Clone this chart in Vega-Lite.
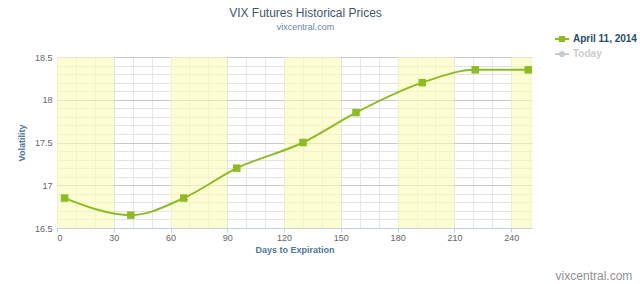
{
  "$schema": "https://vega.github.io/schema/vega-lite/v6.json",
  "width": 475,
  "height": 171,
  "autosize": {"type": "none"},
  "padding": {"left": 57, "top": 57, "right": 108, "bottom": 56},
  "background": "white",
  "config": {"view": {"stroke": null}, "font": "Liberation Sans"},
  "title": {
    "text": "VIX Futures Historical Prices",
    "subtitle": "vixcentral.com",
    "anchor": "middle",
    "frame": "group",
    "dx": 11,
    "offset": -2,
    "font": "Liberation Sans",
    "fontSize": 12,
    "fontWeight": "normal",
    "color": "#3E576F",
    "subtitleFont": "Liberation Sans",
    "subtitleFontSize": 9,
    "subtitleColor": "#6D869F",
    "subtitlePadding": 3
  },
  "resolve": {"axis": {"x": "independent", "y": "independent"}},
  "layer": [
    {
      "data": {"values": [
        {"start": 0, "end": 30},
        {"start": 60, "end": 90},
        {"start": 120, "end": 150},
        {"start": 180, "end": 210},
        {"start": 240, "end": 251}
      ]},
      "mark": {"type": "rect", "fill": "#fafcb6", "opacity": 0.6},
      "encoding": {
        "x": {
          "field": "start", "type": "quantitative",
          "scale": {"domain": [0, 251], "nice": false, "zero": false},
          "axis": {"orient": "bottom", "values": [10,20,40,50,70,80,100,110,130,140,160,170,190,200,220,230,250], "grid": true, "gridColor": "#e6e6e6", "gridWidth": 1, "labels": false, "ticks": false, "domain": false, "title": null}
        },
        "x2": {"field": "end"},
        "y": {
          "datum": 16.5, "type": "quantitative",
          "scale": {"domain": [16.5, 18.5], "nice": false, "zero": false},
          "axis": {"orient": "left", "values": [16.6,16.7,16.8,16.9,17.1,17.2,17.3,17.4,17.6,17.7,17.8,17.9,18.1,18.2,18.3,18.4], "grid": true, "gridColor": "#e3e3e3", "gridWidth": 1, "labels": false, "ticks": false, "domain": false, "title": null}
        },
        "y2": {"datum": 18.5}
      }
    },
    {
      "data": {"values": [
        {"days": 4, "vol": 16.85, "series": "April 11, 2014"},
        {"days": 39, "vol": 16.65, "series": "April 11, 2014"},
        {"days": 67, "vol": 16.85, "series": "April 11, 2014"},
        {"days": 95, "vol": 17.2, "series": "April 11, 2014"},
        {"days": 130, "vol": 17.5, "series": "April 11, 2014"},
        {"days": 158, "vol": 17.85, "series": "April 11, 2014"},
        {"days": 193, "vol": 18.2, "series": "April 11, 2014"},
        {"days": 221, "vol": 18.35, "series": "April 11, 2014"},
        {"days": 249, "vol": 18.35, "series": "April 11, 2014"}
      ]},
      "mark": {"type": "line", "interpolate": "monotone", "strokeWidth": 2,
               "point": {"shape": "square", "size": 56, "filled": true}},
      "encoding": {
        "x": {
          "field": "days", "type": "quantitative",
          "axis": {"orient": "bottom", "values": [0,30,60,90,120,150,180,210,240], "grid": true, "gridColor": "#e3e3e3",
                   "domain": true, "domainColor": "#C0D0E0", "ticks": true, "tickColor": "#C0D0E0", "tickSize": 4,
                   "labelFont": "Liberation Sans", "labelFontSize": 9, "labelColor": "#666666", "labelPadding": 1,
                   "title": "Days to Expiration", "titleFont": "Liberation Sans", "titleFontSize": 9, "titleFontWeight": "bold",
                   "titleColor": "#4d759e", "titlePadding": 3}
        },
        "y": {
          "field": "vol", "type": "quantitative",
          "axis": {"orient": "left", "values": [16.5,17,17.5,18,18.5], "grid": true, "gridColor": "#c8c8c8",
                   "domain": false, "ticks": false, "labelFont": "Liberation Sans", "labelFontSize": 9, "labelColor": "#666666",
                   "labelPadding": 5, "format": "~g",
                   "title": "Volatility", "titleFont": "Liberation Sans", "titleFontSize": 9, "titleFontWeight": "bold",
                   "titleColor": "#4d759e", "titlePadding": 8}
        },
        "color": {
          "field": "series", "type": "nominal",
          "scale": {"domain": ["April 11, 2014", "Today"], "range": ["#8bbc21", "#cccccc"]},
          "legend": {
            "orient": "none", "legendX": 497, "legendY": -26, "title": null, "padding": 0,
            "symbolSize": 196, "symbolStrokeWidth": 2, "rowPadding": -2, "labelOffset": 3,
            "labelFont": "Liberation Sans", "labelFontSize": 10, "labelFontWeight": "bold",
            "encode": {
              "symbols": {"update": {
                "shape": {"signal": "datum.label === 'Today' ? 'M-1,0H1M0.3,0A0.3,0.3 0 1,1 -0.3,0A0.3,0.3 0 1,1 0.3,0Z' : 'M-1,0H1M-0.3,-0.3H0.3V0.3H-0.3Z'"},
                "fill": {"signal": "datum.label === 'Today' ? '#cccccc' : '#8bbc21'"},
                "stroke": {"signal": "datum.label === 'Today' ? '#cccccc' : '#8bbc21'"},
                "strokeWidth": {"value": 2},
                "opacity": {"value": 1}
              }},
              "labels": {"update": {
                "fill": {"signal": "datum.label === 'Today' ? '#cccccc' : '#274b6d'"}
              }}
            }
          }
        }
      }
    },
    {
      "data": {"values": [{"credit": "vixcentral.com"}]},
      "mark": {"type": "text", "align": "right", "baseline": "alphabetic", "font": "Liberation Sans", "fontSize": 12, "color": "#909090"},
      "encoding": {
        "text": {"field": "credit"},
        "x": {"datum": 304, "type": "quantitative", "axis": null},
        "y": {"datum": 15.89, "type": "quantitative", "axis": null}
      }
    }
  ]
}
